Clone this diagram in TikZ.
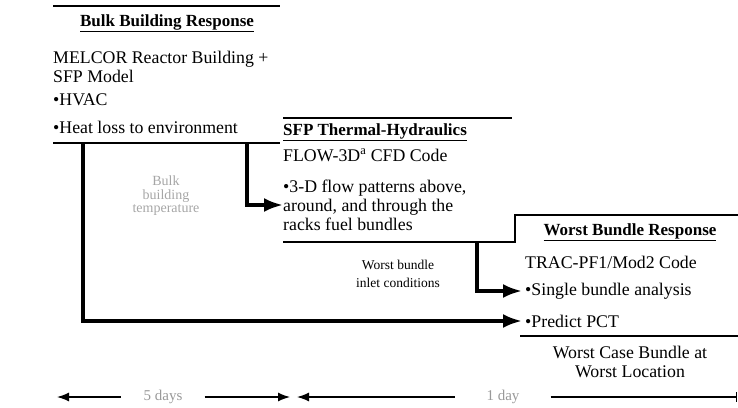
\documentclass[tikz,border=0pt]{standalone}
\usepackage{fontspec}
\setmainfont{Liberation Serif}
\usetikzlibrary{arrows.meta}

\begin{document}
\begin{tikzpicture}[x=1pt, y=-1pt,
        title/.style={font=\fontsize{17}{20}\selectfont\bfseries, inner sep=0pt},
        body/.style={font=\fontsize{17.8}{19}\selectfont, anchor=west, align=left, inner sep=0pt},
        small/.style={font=\fontsize{13.5}{18}\selectfont, align=center, inner sep=0pt},
        faint/.style={font=\fontsize{14}{13.5}\selectfont, align=center, inner sep=0pt, text=gray!70},
        rule/.style={line width=2pt},
        flow/.style={line width=3.5pt, -{Latex[length=19pt,width=14pt]}, shorten >=3pt},
        span/.style={line width=1.3pt},
        spanlabel/.style={font=\fontsize{15}{17}\selectfont, text=gray!80, inner ysep=0pt}
    ]
        \useasboundingbox (0,0) rectangle (738,407);

        % Bulk building response
        \draw[rule] (53,6) -- (280,6);
        \node[title] (bulk_title) at (167,23) {\underline{Bulk Building Response}};
        \node[body] (bulk_code) at (53,67) {MELCOR Reactor Building +\\SFP Model};
        \node[body] (bulk_hvac) at (53,100) {•HVAC};
        \node[body] (bulk_heat) at (53,127) {•Heat loss to environment};
        \draw[rule] (53,143) -- (280,143);

        % SFP thermal-hydraulics
        \draw[rule] (283,118) -- (512,118);
        \node[title] (sfp_title) at (375,132) {\underline{SFP Thermal-Hydraulics}};
        \node[body] (sfp_code) at (283,155) {FLOW-3D$^{\mathrm{a}}$ CFD Code};
        \node[body] (sfp_flow) at (283,205) {•3-D flow patterns above,\\around, and through the\\racks fuel bundles};
        \draw[rule] (283,242) -- (515,242) -- (515,215) -- (738,215);

        % Worst bundle response
        \node[title] (worst_title) at (630,232) {\underline{Worst Bundle Response}};
        \node[body] (worst_code) at (525,262) {TRAC-PF1/Mod2 Code};
        \node[body] (single) at (525,291) {•Single bundle analysis};
        \node[body] (predict) at (525,321) {•Predict PCT};
        \draw[rule] (520,336) -- (738,336);
        \node[body, anchor=center, align=center] (worst_case) at (630,362) {Worst Case Bundle at\\Worst Location};

        % Connections
        \coordinate (bulk_tap) at (83,143);
        \coordinate (bulk_tap2) at (247,143);
        \coordinate (sfp_in) at (286,205);
        \coordinate (sfp_tap) at (477,242);
        \draw[flow] (bulk_tap) |- (predict.west);
        \draw[flow] (bulk_tap2) |- (sfp_in);
        \draw[flow] (sfp_tap) |- (single.west);

        % Connection labels
        \node[faint] (bulk_temp) at (166,196) {Bulk\\building\\temperature};
        \node[small] (inlet) at (398,274) {Worst bundle\\inlet conditions};

        % Time spans
        \coordinate (t1_left) at (57,397);
        \coordinate (t1_right) at (290,397);
        \coordinate (t2_left) at (297,397);
        \coordinate (t2_right) at (737,397);
        \node[spanlabel, inner xsep=22pt] (days5) at (163,397) {5 days};
        \node[spanlabel, inner xsep=31pt] (day1) at (503,397) {1 day};
        \draw[span, {Latex[length=12pt,width=9pt]}-] (t1_left) -- (days5);
        \draw[span, -{Latex[length=12pt,width=9pt]}] (days5) -- (t1_right);
        \draw[span, {Latex[length=12pt,width=9pt]}-] (t2_left) -- (day1);
        \draw[span, -{Bar[width=10pt]}] (day1) -- (t2_right);

    \end{tikzpicture}
\end{document}
